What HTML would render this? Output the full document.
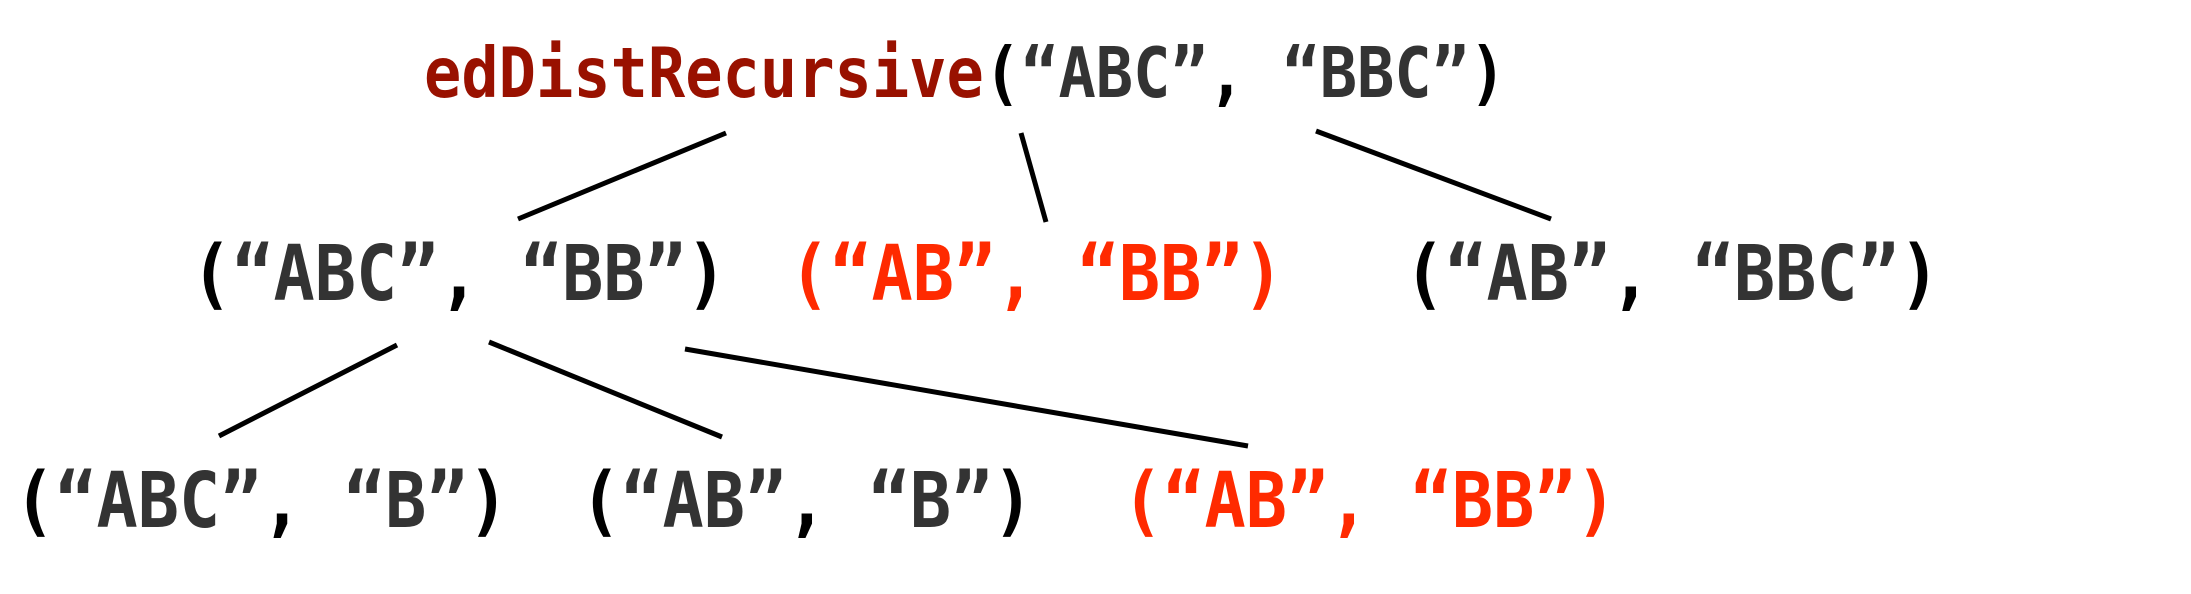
<!DOCTYPE html>
<html><head><meta charset="utf-8"><style>
html,body{margin:0;padding:0;background:#fff;}
svg{display:block;}
text{font-family:"DejaVu Sans Mono","Liberation Mono",monospace;font-weight:bold;white-space:pre;}
.k{fill:#000}.g{fill:#333}.r{fill:#ff2a00}.d{fill:#991100}
</style></head><body>
<svg width="2191" height="594" xmlns="http://www.w3.org/2000/svg">
<g transform="translate(0,97) scale(1,1.12) translate(0,-97)">
<text x="424" y="97" font-size="62"><tspan class="d">edDistRecursive</tspan><tspan class="k">(</tspan><tspan class="g">“ABC”</tspan><tspan class="k">, </tspan><tspan class="g">“BBC”</tspan><tspan class="k">)</tspan></text>
</g>
<g transform="translate(0,300) scale(1,1.12) translate(0,-300)">
<text x="191" y="300" font-size="68.5"><tspan class="k">(</tspan><tspan class="g">“ABC”</tspan><tspan class="k">, </tspan><tspan class="g">“BB”</tspan><tspan class="k">)</tspan></text>
<text x="789" y="300" font-size="68.5" class="r">(“AB”, “BB”)</text>
<text x="1404" y="300" font-size="68.5"><tspan class="k">(</tspan><tspan class="g">“AB”</tspan><tspan class="k">, </tspan><tspan class="g">“BBC”</tspan><tspan class="k">)</tspan></text>
</g>
<g transform="translate(0,527) scale(1,1.12) translate(0,-527)">
<text x="14" y="527" font-size="68.5"><tspan class="k">(</tspan><tspan class="g">“ABC”</tspan><tspan class="k">, </tspan><tspan class="g">“B”</tspan><tspan class="k">)</tspan></text>
<text x="580" y="527" font-size="68.5"><tspan class="k">(</tspan><tspan class="g">“AB”</tspan><tspan class="k">, </tspan><tspan class="g">“B”</tspan><tspan class="k">)</tspan></text>
<text x="1122" y="527" font-size="68.5" class="r">(“AB”, “BB”)</text>
</g>
<g stroke="#000" stroke-width="5">
<line x1="726" y1="133" x2="518" y2="219"/>
<line x1="1021" y1="133" x2="1046" y2="222"/>
<line x1="1316" y1="131" x2="1551" y2="219"/>
<line x1="397" y1="345" x2="219" y2="436"/>
<line x1="489" y1="342" x2="722" y2="437"/>
<line x1="685" y1="349" x2="1248" y2="446"/>
</g>
</svg>
</body></html>
